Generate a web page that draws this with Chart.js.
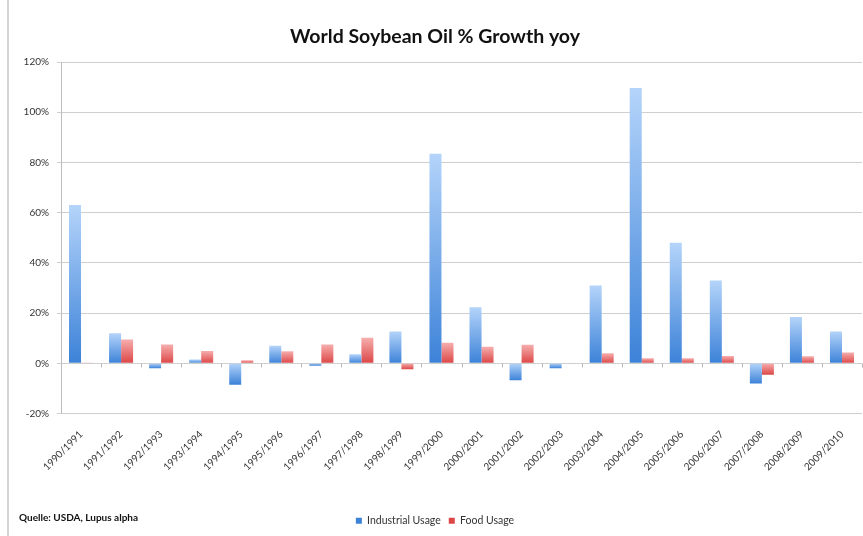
<!DOCTYPE html>
<html>
<head>
<meta charset="utf-8">
<script src="https://cdn.jsdelivr.net/npm/chart.js@4"></script>
<style>
  html, body { margin: 0; padding: 0; background: #fff; }
  #wrap { width: 863px; height: 536px; }
</style>
</head>
<body>
<div id="wrap"><canvas id="soyChart" width="863" height="536"></canvas></div>
<script>
var seasons = ['1990/1991', '1991/1992', '1992/1993', '1993/1994', '1994/1995',
    '1995/1996', '1996/1997', '1997/1998', '1998/1999', '1999/2000',
    '2000/2001', '2001/2002', '2002/2003', '2003/2004', '2004/2005',
    '2005/2006', '2006/2007', '2007/2008', '2008/2009', '2009/2010'];

// yoy growth in %
var industrialUsage = [63, 12, -2, 1.5, -8.5, 7, -1, 3.6, 12.7, 83.5,
    22.3, -6.8, -2, 31, 109.6, 48, 33, -8.1, 18.4, 12.7];
var foodUsage = [0.3, 9.5, 7.5, 4.9, 1.2, 4.8, 7.5, 10.2, -2.4, 8.2,
    6.6, 7.4, 0, 4, 2, 2, 2.9, -4.6, 2.8, 4.3];

var yTicks = [-20, 0, 20, 40, 60, 80, 100, 120];

var FONT = 'Lato, "Open Sans", sans-serif';

// vertical gradient per bar: light at top, dark at bottom
function barFill(light, dark, solid) {
    return function(ctx) {
        if (ctx.type !== 'data') return solid;
        var y = ctx.chart.scales.y;
        if (!y || ctx.raw === undefined) return solid;
        var top = y.getPixelForValue(Math.max(ctx.raw, 0));
        var bottom = y.getPixelForValue(Math.min(ctx.raw, 0));
        if (!isFinite(top) || !isFinite(bottom) || top === bottom) return solid;
        var g = ctx.chart.ctx.createLinearGradient(0, top, 0, bottom);
        g.addColorStop(0, light);
        g.addColorStop(1, dark);
        return g;
    };
}

var extras = {
    id: 'extras',
    afterDraw: function(chart) {
        var c = chart.ctx;
        var x = chart.scales.x, y = chart.scales.y;
        c.save();
        // frame line on the left
        c.strokeStyle = '#d4d4d4';
        c.lineWidth = 2;
        c.beginPath();
        c.moveTo(8, 0);
        c.lineTo(8, chart.height);
        c.stroke();
        // small category ticks on the zero line
        var y0 = Math.round(y.getPixelForValue(0)) + 0.5;
        c.strokeStyle = '#b8b8b8';
        c.lineWidth = 1;
        var step = (x.right - x.left) / seasons.length;
        for (var i = 1; i <= seasons.length; i++) {
            var px = Math.round(x.left + step * i) + 0.5;
            c.beginPath();
            c.moveTo(px, y0);
            c.lineTo(px, y0 + 4);
            c.stroke();
        }
        // source note
        c.fillStyle = '#111';
        c.font = 'bold 10px ' + FONT;
        c.textBaseline = 'middle';
        c.fillText('Quelle: USDA, Lupus alpha', 19, 518);
        c.restore();
    }
};

new Chart(document.getElementById('soyChart'), {
    type: 'bar',
    data: {
        labels: seasons,
        datasets: [
            {
                label: 'Industrial Usage',
                data: industrialUsage,
                backgroundColor: barFill('#b4d4fa', '#3c82d8', '#6a9fe0'),
                borderWidth: 0
            },
            {
                label: 'Food Usage',
                data: foodUsage,
                backgroundColor: barFill('#f7aeae', '#dc4646', '#e05c5c'),
                borderWidth: 0
            }
        ]
    },
    options: {
        responsive: false,
        animation: false,
        layout: { padding: { left: 8, right: 1, top: 0, bottom: 0 } },
        datasets: {
            bar: { categoryPercentage: 0.6, barPercentage: 1.0 }
        },
        plugins: {
            title: {
                display: true,
                text: 'World Soybean Oil % Growth yoy',
                color: '#111',
                font: { family: FONT, size: 19.5, weight: 'bold', lineHeight: 1.2 },
                padding: { top: 25, bottom: 13.6 }
            },
            legend: {
                position: 'bottom',
                labels: {
                    boxWidth: 6,
                    boxHeight: 6,
                    padding: 8,
                    color: '#333',
                    font: { family: FONT, size: 10.5 }
                }
            },
            tooltip: { enabled: false }
        },
        scales: {
            x: {
                grid: { display: false },
                border: { display: false },
                ticks: {
                    color: '#333',
                    font: { family: FONT, size: 10 },
                    maxRotation: 45,
                    minRotation: 45,
                    padding: 7,
                    autoSkip: false
                },
                afterFit: function(scale) { scale.height = 94; }
            },
            y: {
                min: -20,
                max: 120,
                afterBuildTicks: function(scale) {
                    scale.ticks = yTicks.map(function(v) { return { value: v }; });
                },
                grid: { color: '#cfcfcf', lineWidth: 1, tickLength: 4 },
                border: { color: '#bdbdbd' },
                ticks: {
                    color: '#333',
                    font: { family: FONT, size: 10 },
                    padding: 8,
                    callback: function(v) { return v + '%'; }
                },
                afterFit: function(scale) { scale.width = 53; }
            }
        }
    },
    plugins: [extras]
});
</script>
</body>
</html>
